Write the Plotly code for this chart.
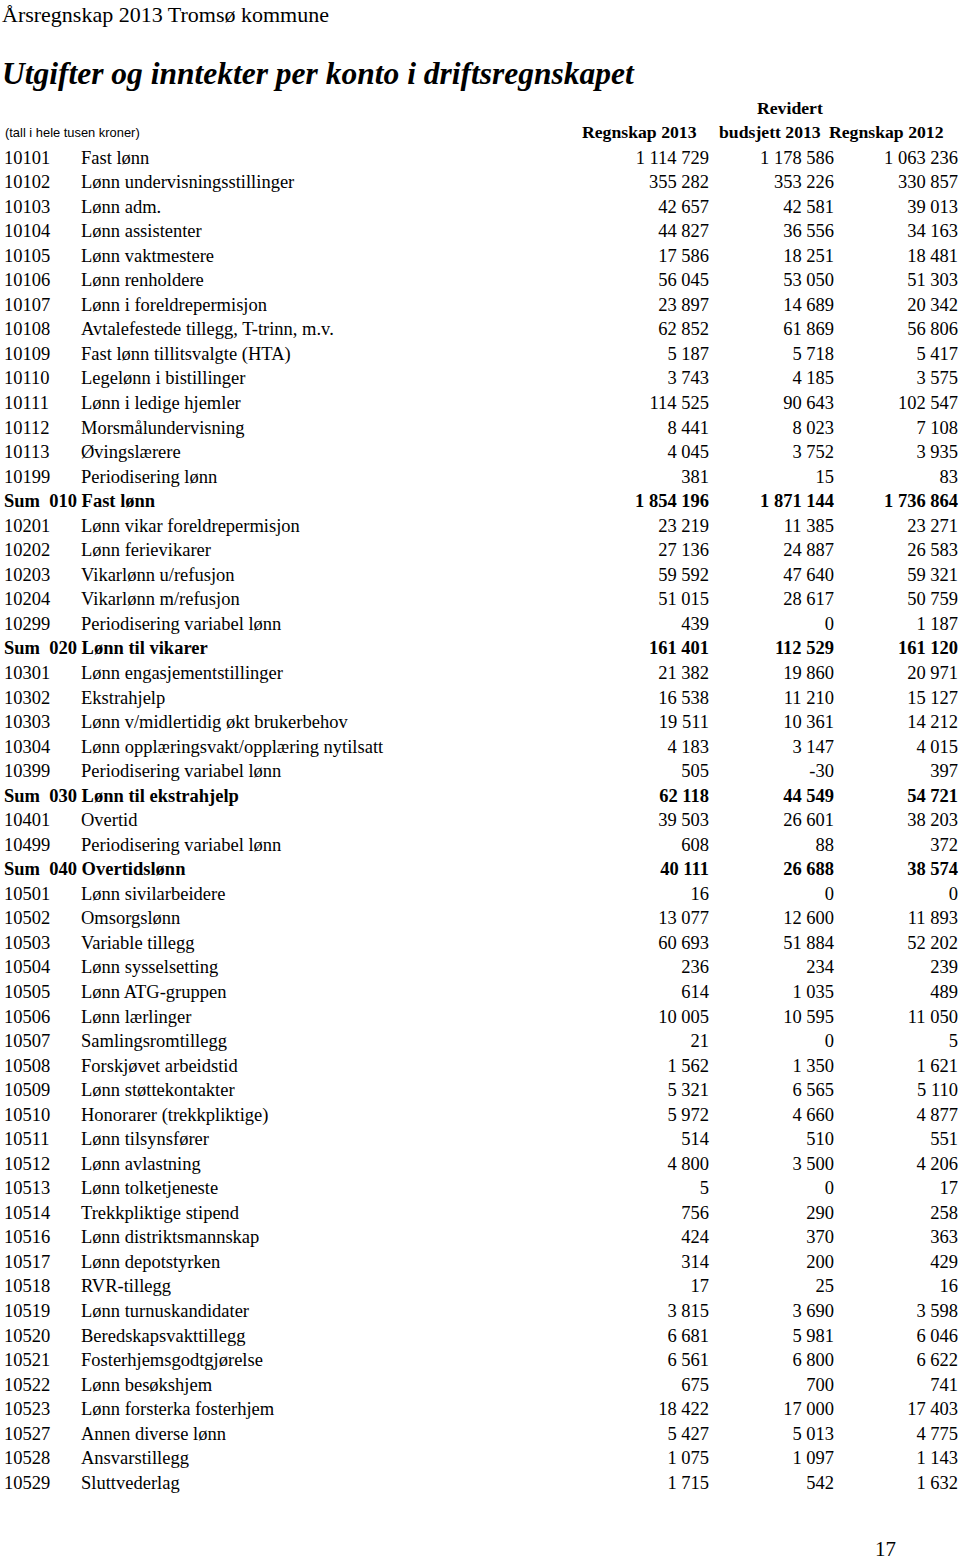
import plotly.graph_objects as go

# account rows (sum rows start with "Sum")
codes = [
    "10101", "10102", "10103", "10104", "10105", "10106", "10107", "10108", "10109",
    "10110", "10111", "10112", "10113", "10199", "Sum  010",
    "10201", "10202", "10203", "10204", "10299", "Sum  020",
    "10301", "10302", "10303", "10304", "10399", "Sum  030",
    "10401", "10499", "Sum  040",
    "10501", "10502", "10503", "10504", "10505", "10506", "10507", "10508", "10509",
    "10510", "10511", "10512", "10513", "10514", "10516", "10517", "10518", "10519",
    "10520", "10521", "10522", "10523", "10527", "10528", "10529",
]
names = [
    "Fast lønn", "Lønn undervisningsstillinger", "Lønn adm.", "Lønn assistenter",
    "Lønn vaktmestere", "Lønn renholdere", "Lønn i foreldrepermisjon",
    "Avtalefestede tillegg, T-trinn, m.v.", "Fast lønn tillitsvalgte (HTA)",
    "Legelønn i bistillinger", "Lønn i ledige hjemler", "Morsmålundervisning",
    "Øvingslærere", "Periodisering lønn", "Fast lønn",
    "Lønn vikar foreldrepermisjon", "Lønn ferievikarer", "Vikarlønn u/refusjon",
    "Vikarlønn m/refusjon", "Periodisering variabel lønn", "Lønn til vikarer",
    "Lønn engasjementstillinger", "Ekstrahjelp", "Lønn v/midlertidig økt brukerbehov",
    "Lønn opplæringsvakt/opplæring nytilsatt", "Periodisering variabel lønn",
    "Lønn til ekstrahjelp",
    "Overtid", "Periodisering variabel lønn", "Overtidslønn",
    "Lønn sivilarbeidere", "Omsorgslønn", "Variable tillegg", "Lønn sysselsetting",
    "Lønn ATG-gruppen", "Lønn lærlinger", "Samlingsromtillegg", "Forskjøvet arbeidstid",
    "Lønn støttekontakter", "Honorarer (trekkpliktige)", "Lønn tilsynsfører",
    "Lønn avlastning", "Lønn tolketjeneste", "Trekkpliktige stipend",
    "Lønn distriktsmannskap", "Lønn depotstyrken", "RVR-tillegg",
    "Lønn turnuskandidater", "Beredskapsvakttillegg", "Fosterhjemsgodtgjørelse",
    "Lønn besøkshjem", "Lønn forsterka fosterhjem", "Annen diverse lønn",
    "Ansvarstillegg", "Sluttvederlag",
]
regnskap_2013 = [
    1114729, 355282, 42657, 44827, 17586, 56045, 23897, 62852, 5187,
    3743, 114525, 8441, 4045, 381, 1854196,
    23219, 27136, 59592, 51015, 439, 161401,
    21382, 16538, 19511, 4183, 505, 62118,
    39503, 608, 40111,
    16, 13077, 60693, 236, 614, 10005, 21, 1562, 5321,
    5972, 514, 4800, 5, 756, 424, 314, 17, 3815,
    6681, 6561, 675, 18422, 5427, 1075, 1715,
]
budsjett_2013 = [
    1178586, 353226, 42581, 36556, 18251, 53050, 14689, 61869, 5718,
    4185, 90643, 8023, 3752, 15, 1871144,
    11385, 24887, 47640, 28617, 0, 112529,
    19860, 11210, 10361, 3147, -30, 44549,
    26601, 88, 26688,
    0, 12600, 51884, 234, 1035, 10595, 0, 1350, 6565,
    4660, 510, 3500, 0, 290, 370, 200, 25, 3690,
    5981, 6800, 700, 17000, 5013, 1097, 542,
]
regnskap_2012 = [
    1063236, 330857, 39013, 34163, 18481, 51303, 20342, 56806, 5417,
    3575, 102547, 7108, 3935, 83, 1736864,
    23271, 26583, 59321, 50759, 1187, 161120,
    20971, 15127, 14212, 4015, 397, 54721,
    38203, 372, 38574,
    0, 11893, 52202, 239, 489, 11050, 5, 1621, 5110,
    4877, 551, 4206, 17, 258, 363, 429, 16, 3598,
    6046, 6622, 741, 17403, 4775, 1143, 1632,
]

W, H = 960, 1560
ROW_TOP, ROW_STEP = 159, 24.54
SERIF = "Liberation Serif"
SANS = "Liberation Sans"
BODY = 18.5


def fmt(v):
    return f"{v:,}".replace(",", " ")


def bold_if(text, flag):
    return f"<b>{text}</b>" if flag else text


rows = list(range(len(codes)))
is_sum = [c.startswith("Sum") for c in codes]

code_txt = []
name_txt = []
for c, n, s in zip(codes, names, is_sum):
    if s:
        code_txt.append("<b>" + c.replace(" ", "\u00a0") + " " + n + "</b>")
        name_txt.append("")
    else:
        code_txt.append(c)
        name_txt.append(n)

fig = go.Figure()
font = {"family": SERIF, "size": BODY, "color": "#000000"}


def add_col(x, texts, pos):
    fig.add_trace(
        go.Scatter(
            x=[x] * len(rows),
            y=rows,
            mode="text",
            text=texts,
            textposition=pos,
            textfont=font,
            hoverinfo="skip",
            showlegend=False,
            cliponaxis=False,
        )
    )


add_col(4, code_txt, "middle right")
add_col(81, name_txt, "middle right")
for x, vals in ((709, regnskap_2013), (834, budsjett_2013), (958, regnskap_2012)):
    add_col(x, [bold_if(fmt(v), s) for v, s in zip(vals, is_sum)], "middle left")

annotations = [
    {"text": "Årsregnskap 2013 Tromsø kommune", "x": 0, "y": 15, "xanchor": "left",
     "font": {"family": SERIF, "size": 22}},
    {"text": "<b><i>Utgifter og inntekter per konto i driftsregnskapet</i></b>", "x": 0, "y": 73,
     "xanchor": "left", "font": {"family": SERIF, "size": 31.5}},
    {"text": "(tall i hele tusen kroner)", "x": 3, "y": 132, "xanchor": "left",
     "font": {"family": SANS, "size": 12.9}},
    {"text": "<b>Regnskap 2013</b>", "x": 699, "y": 132, "xanchor": "right",
     "font": {"family": SERIF, "size": 17.7}},
    {"text": "<b>Revidert</b>", "x": 790, "y": 108, "xanchor": "center",
     "font": {"family": SERIF, "size": 17.7}},
    {"text": "<b>budsjett 2013</b>", "x": 823, "y": 132, "xanchor": "right",
     "font": {"family": SERIF, "size": 17.7}},
    {"text": "<b>Regnskap 2012</b>", "x": 946, "y": 132, "xanchor": "right",
     "font": {"family": SERIF, "size": 17.7}},
    {"text": "17", "x": 885, "y": 1549, "xanchor": "center",
     "font": {"family": SERIF, "size": 21}},
]
for a in annotations:
    a.update({"xref": "paper", "yref": "paper", "showarrow": False, "yanchor": "middle"})
    a["x"] = a["x"] / W
    a["y"] = 1 - a["y"] / H
    a["font"]["color"] = "#000000"

fig.update_layout(
    width=W,
    height=H,
    margin={"l": 0, "r": 0, "t": 0, "b": 0},
    paper_bgcolor="#ffffff",
    plot_bgcolor="#ffffff",
    xaxis={"range": [0, W], "visible": False, "fixedrange": True},
    yaxis={
        "range": [(H - ROW_TOP) / ROW_STEP, -ROW_TOP / ROW_STEP],
        "visible": False,
        "fixedrange": True,
    },
    annotations=annotations,
)
# the page body has a default 8px margin; drop it so the figure fills the window
fig.write_html(
    "out.html",
    config={"displayModeBar": False},
    post_script="document.body.style.margin='0';",
)
